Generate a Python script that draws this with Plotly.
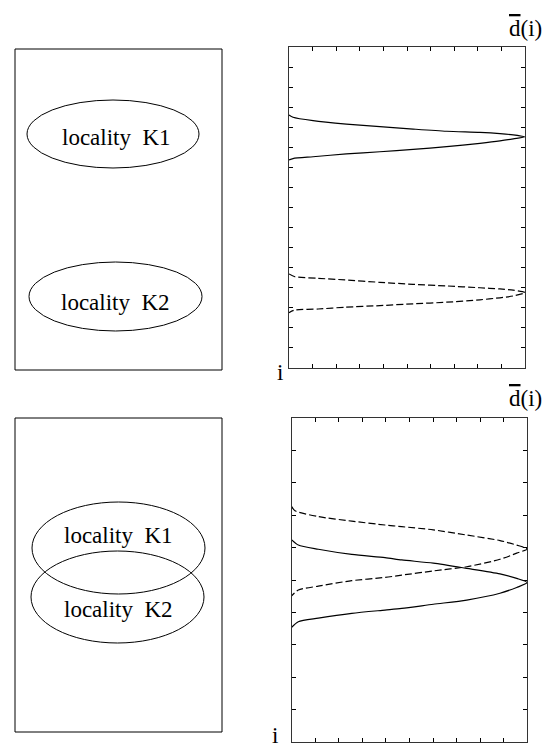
import plotly.graph_objects as go

W, H = 559, 747

# ---- data (d = horizontal value, i = vertical index) ----
top_solid_d = [0, 0.17, 1.02, 2.43, 3.85, 5.26, 6.68, 8.09, 8.94, 9.50, 10,
               9.50, 8.94, 8.09, 6.68, 5.26, 3.85, 2.43, 1.02, 0.17, 0]
top_solid_i = [12.61, 12.50, 12.33, 12.16, 12.03, 11.91, 11.80, 11.74, 11.68, 11.62, 11.52,
               11.42, 11.32, 11.20, 11.03, 10.90, 10.78, 10.67, 10.53, 10.44, 10.37]

top_dash_d = [0, 0.25, 1.24, 2.37, 3.85, 5.26, 6.68, 8.09, 8.94, 9.50, 10,
              9.50, 8.94, 8.09, 6.68, 5.26, 3.85, 2.37, 1.24, 0.25, 0]
top_dash_i = [4.69, 4.55, 4.47, 4.39, 4.27, 4.17, 4.09, 4.00, 3.94, 3.88, 3.76,
              3.59, 3.50, 3.40, 3.28, 3.20, 3.11, 3.03, 2.94, 2.89, 2.76]

bot_solid_d = [0, 0.28, 1.13, 2.55, 3.96, 4.67, 6.01, 7.43, 8.84, 9.55, 10,
               9.55, 8.84, 7.43, 6.01, 4.67, 3.96, 2.55, 1.13, 0.28, 0]
bot_solid_i = [6.24, 6.08, 5.95, 5.79, 5.69, 5.62, 5.52, 5.36, 5.19, 5.05, 4.92,
               4.77, 4.59, 4.38, 4.25, 4.12, 4.07, 3.97, 3.82, 3.71, 3.54]

bot_dash_d = [0, 0.14, 1.13, 2.55, 3.96, 4.67, 6.01, 7.43, 8.84, 9.55, 10,
              9.55, 8.84, 7.43, 6.01, 4.67, 3.96, 2.55, 1.13, 0.28, 0]
bot_dash_i = [7.27, 7.14, 6.96, 6.82, 6.70, 6.65, 6.55, 6.39, 6.22, 6.08, 5.96,
              5.83, 5.64, 5.41, 5.28, 5.15, 5.08, 4.98, 4.81, 4.69, 4.51]

top_i_max = 16
bot_i_max = 10
d_max = 10
locality_labels = ["locality\u00a0\u00a0K1", "locality\u00a0\u00a0K2"]
d_label = "<span style='text-decoration:overline'>d</span>(i)"
i_label = "i"

FONT = "Liberation Serif, Times New Roman, serif"


def px(x):
    return x / W


def py(y):
    return 1 - y / H


fig = go.Figure()

line_solid = dict(color="black", width=1.2, shape="spline", smoothing=0.7)
line_dash = dict(color="black", width=1.2, shape="spline", smoothing=0.7, dash="7px,3px")

fig.add_trace(go.Scatter(x=top_solid_d, y=top_solid_i, mode="lines", line=line_solid,
                         xaxis="x", yaxis="y", hoverinfo="skip"))
fig.add_trace(go.Scatter(x=top_dash_d, y=top_dash_i, mode="lines", line=line_dash,
                         xaxis="x", yaxis="y", hoverinfo="skip"))
fig.add_trace(go.Scatter(x=bot_solid_d, y=bot_solid_i, mode="lines", line=line_solid,
                         xaxis="x2", yaxis="y2", hoverinfo="skip"))
fig.add_trace(go.Scatter(x=bot_dash_d, y=bot_dash_i, mode="lines", line=line_dash,
                         xaxis="x2", yaxis="y2", hoverinfo="skip"))

axis_common = dict(showgrid=False, zeroline=False, showticklabels=False,
                   ticks="inside", ticklen=4, tickwidth=1, tickcolor="black",
                   showline=True, linecolor="#333", linewidth=1, mirror="ticks",
                   dtick=1, tick0=0, fixedrange=True)

fig.update_layout(
    width=W, height=H,
    margin=dict(l=0, r=0, t=0, b=0),
    paper_bgcolor="white", plot_bgcolor="white",
    showlegend=False,
    xaxis=dict(domain=[px(289), px(525)], range=[0, d_max], anchor="y", **axis_common),
    yaxis=dict(domain=[py(368), py(47)], range=[0, top_i_max], anchor="x", **axis_common),
    xaxis2=dict(domain=[px(291.7), px(527.3)], range=[0, d_max], anchor="y2", **axis_common),
    yaxis2=dict(domain=[py(741.7), py(418.3)], range=[0, bot_i_max], anchor="x2", **axis_common),
)

shapes = []


def rect(x0, y0, x1, y1):
    shapes.append(dict(type="rect", xref="paper", yref="paper",
                       x0=px(x0), x1=px(x1), y0=py(y1), y1=py(y0),
                       line=dict(color="black", width=1)))


def ellipse(cx, cy, rx, ry):
    shapes.append(dict(type="circle", xref="paper", yref="paper",
                       x0=px(cx - rx), x1=px(cx + rx), y0=py(cy + ry), y1=py(cy - ry),
                       line=dict(color="black", width=1)))


rect(15, 49, 222, 370)
ellipse(113, 134, 86, 34)
ellipse(115.5, 296.5, 86.5, 34.5)

rect(15, 418, 222, 732)
ellipse(118.5, 548, 86.5, 46)
ellipse(117.5, 597, 86.5, 46)

fig.update_layout(shapes=shapes)

annotations = []


def text(t, x, y, size=23):
    annotations.append(dict(text=t, x=px(x), y=py(y), xref="paper", yref="paper",
                            xanchor="center", yanchor="middle", showarrow=False,
                            font=dict(family=FONT, size=size, color="black")))


text(locality_labels[0], 116, 137.5)
text(locality_labels[1], 115, 302.5)
text(locality_labels[0], 118, 535.5)
text(locality_labels[1], 118, 609.5)

text(d_label, 525, 28.5)
text(d_label, 525, 398.5)
text(i_label, 280, 372.5)
text(i_label, 275, 735)

fig.update_layout(annotations=annotations)

fig.write_html("out.html",
               config={"displayModeBar": False, "staticPlot": True},
               post_script="document.body.style.margin='0';document.body.style.padding='0';")
